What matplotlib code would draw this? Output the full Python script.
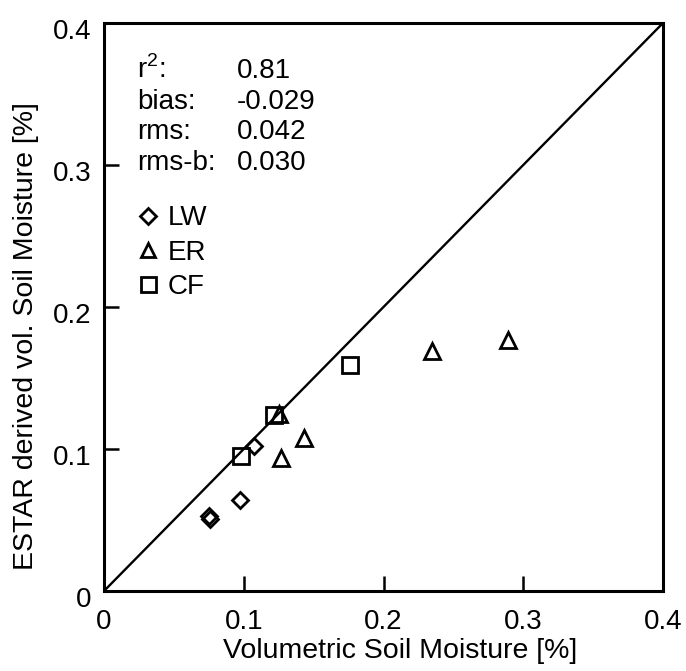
import matplotlib.pyplot as plt
import matplotlib as mpl
from matplotlib.transforms import ScaledTranslation

mpl.rcParams["font.family"] = ["Liberation Sans", "DejaVu Sans"]
mpl.rcParams["mathtext.fontset"] = "custom"
mpl.rcParams["mathtext.rm"] = "Liberation Sans"

# site measurements (in situ vs ESTAR retrieval)
lw_x = [0.075, 0.076, 0.097, 0.107]
lw_y = [0.053, 0.051, 0.064, 0.102]
er_x = [0.125, 0.127, 0.143, 0.235, 0.289]
er_y = [0.125, 0.094, 0.108, 0.169, 0.177]
cf_x = [0.098, 0.122, 0.176]
cf_y = [0.095, 0.124, 0.159]

stat_names = [r"r$^\mathrm{2}$:", "bias:", "rms:", "rms-b:"]
stat_vals = ["0.81", "-0.029", "0.042", "0.030"]

ticks = [0, 0.1, 0.2, 0.3, 0.4]
tick_labels = ["0", "0.1", "0.2", "0.3", "0.4"]

fig = plt.figure(figsize=(6.86, 6.71), dpi=100)
# axes frame approx px 104..663 x 23..591
ax = fig.add_axes([104 / 686, 80 / 671, 559 / 686, 568 / 671])

ax.plot([0, 0.4], [0, 0.4], color="black", linewidth=1.7, zorder=1)

mk = dict(linestyle="none", markerfacecolor="none", markeredgecolor="black",
          markeredgewidth=2, zorder=3)
ax.plot(lw_x, lw_y, marker="D", markersize=8.5, label="LW", **mk)
ax.plot(er_x, er_y, marker="^", markersize=11.5, label="ER", **mk)
ax.plot(cf_x, cf_y, marker="s", markersize=12, label="CF", **mk)

ax.set_xlim(0, 0.4)
ax.set_ylim(0, 0.4)
ax.set_xticks(ticks)
ax.set_xticklabels(tick_labels)
ax.set_yticks(ticks)
ax.set_yticklabels(tick_labels)
ax.tick_params(direction="in", length=11, width=1.8, labelsize=20)
ax.tick_params(axis="x", pad=13)
ax.tick_params(axis="y", pad=9)
for s in ax.spines.values():
    s.set_linewidth(2.2)

# y tick labels sit slightly below their ticks in the original
for lab in ax.get_yticklabels():
    lab.set_transform(lab.get_transform() + ScaledTranslation(0, -4 / 72, fig.dpi_scale_trans))

ax.set_xlabel("Volumetric Soil Moisture [%]", fontsize=20.5)
ax.xaxis.set_label_coords(0.53, -0.083)
ax.set_ylabel("ESTAR derived vol. Soil Moisture [%]", fontsize=20.5)
ax.yaxis.set_label_coords(-0.117, 0.449)

for i, (n, v) in enumerate(zip(stat_names, stat_vals)):
    y = 0.903 - i * 0.0537
    ax.text(0.059, y, n, transform=ax.transAxes, fontsize=20, va="baseline")
    ax.text(0.238, y, v, transform=ax.transAxes, fontsize=20, va="baseline")

leg = ax.legend(loc="upper left", bbox_to_anchor=(0.059, 0.679), frameon=False,
                fontsize=20, handlelength=0.8, handletextpad=0.32,
                labelspacing=0.3, borderaxespad=0, borderpad=0, markerscale=0.9)

fig.savefig("out.png", dpi=100)
